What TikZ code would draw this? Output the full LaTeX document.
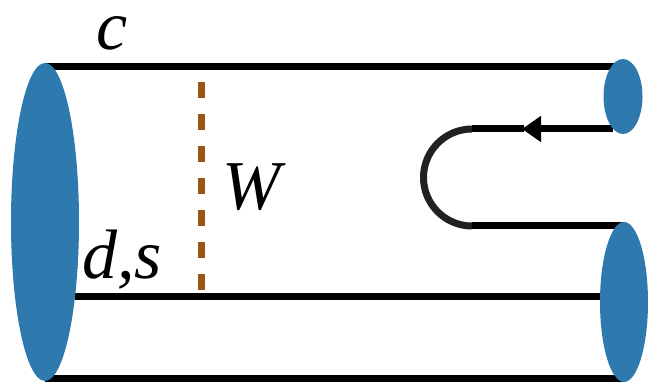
\documentclass[tikz,border=0pt]{standalone}
\usepackage{fontspec}
\setmainfont{Liberation Serif}
\usepackage{xcolor}
\usetikzlibrary{shapes.geometric,arrows.meta}

\definecolor{blobblue}{RGB}{46,122,174}
\definecolor{wbrown}{RGB}{156,86,18}

\begin{document}
\begin{tikzpicture}[
  x=1pt, y=-1pt,
  blob/.style={ellipse, fill=blobblue, inner sep=0pt},
  quark/.style={line width=7pt},
  wline/.style={wbrown, line width=7pt, dash pattern=on 16pt off 16pt, dash phase=16pt},
  lbl/.style={font=\fontsize{70}{80}\selectfont\itshape, inner sep=0pt},
]
\useasboundingbox (0,0) rectangle (648,382);

\coordinate (wtop) at (201,66);
\coordinate (wbot) at (201,290);
\draw[wline] (wtop) -- (wbot);

\coordinate (ctl) at (45,67);
\coordinate (ctr) at (625,67);
\coordinate (dsl) at (75,296);
\coordinate (dsr) at (620,296);
\coordinate (bl) at (45,378);
\coordinate (br) at (625,378);
\draw[quark] (ctl) -- (ctr);
\draw[quark] (dsl) -- (dsr);
\draw[quark] (bl) -- (br);

\coordinate (loopin) at (613,129);
\coordinate (tip) at (522,129);
\coordinate (turn) at (472,129);
\coordinate (loopout) at (625,226);
\draw[quark, -{Triangle[length=19pt,width=25pt]}] (loopin) -- (tip);
\draw[quark] (tip) -- ++(2,0) -- (turn);
\draw[quark, black!87] (turn) arc[start angle=270, end angle=90, radius=48.5];
\draw[quark] (472,226) -- (loopout);

\node[blob, minimum width=68pt, minimum height=318pt] (meson) at (45,222) {};
\node[blob, minimum width=39pt, minimum height=75pt] (topblob) at (623,96.5) {};
\node[blob, minimum width=48pt, minimum height=160pt] (botblob) at (624,302) {};

\node[lbl, anchor=base] (lblc) at (112,50) {c};
\node[lbl, anchor=base] (lblw) at (252,210) {W};
\node[lbl, anchor=base] (lblds) at (122,278) {d,s};

\end{tikzpicture}
\end{document}
